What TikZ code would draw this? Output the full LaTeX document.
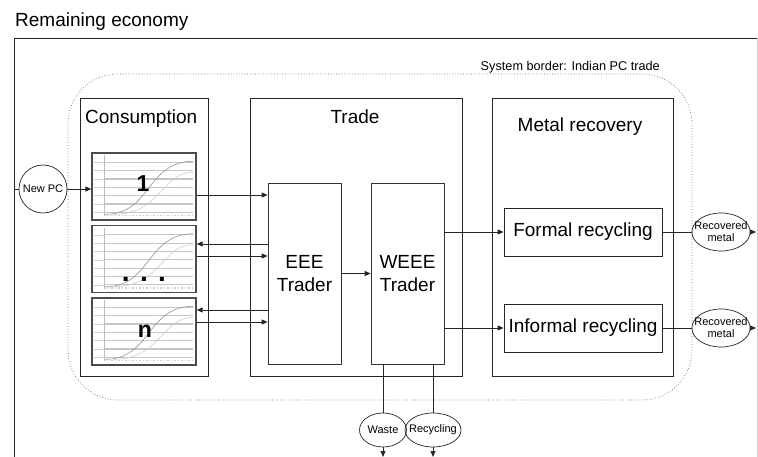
\documentclass[tikz,border=0pt]{standalone}
\usepackage{fontspec}
\setmainfont{Liberation Sans}
\usepackage{tikz}
\usetikzlibrary{positioning,arrows.meta,shapes.geometric,calc}
\tikzset{
  sect/.style={rectangle, draw=black!85, line width=0.8pt, inner sep=0pt},
  sectlbl/.style={font=\fontsize{19}{22}\selectfont, inner sep=0pt},
  trader/.style={rectangle, draw=black!80, line width=0.7pt, align=center,
    font=\fontsize{19}{23}\selectfont, minimum width=73pt, minimum height=181pt, inner sep=0pt},
  recbox/.style={rectangle, draw=black!85, line width=0.8pt,
    font=\fontsize{19}{22}\selectfont, minimum width=158pt, minimum height=48pt, inner sep=0pt},
  chartbox/.style={rectangle, draw=black!70, line width=1.4pt,
    minimum width=104pt, minimum height=67pt, inner sep=0pt},
  chartlbl/.style={font=\fontsize{23}{24}\selectfont\bfseries, inner sep=0pt},
  stock/.style={ellipse, draw=black!85, line width=0.7pt, align=center,
    font=\fontsize{11}{12}\selectfont, inner xsep=-6pt, inner ysep=1pt},
  sysborder/.style={rectangle, rounded corners=50pt, draw=black!60, dotted, line width=0.7pt,
    minimum width=624pt, minimum height=326pt, inner sep=0pt},
  frame/.style={draw=black!85, line width=0.9pt},
  flow/.style={-{Triangle[length=6pt, width=5pt]}, draw=black!85, line width=0.8pt},
  link/.style={draw=black!85, line width=0.8pt},
}
% grid and curves inside one consumption chart
\newcommand{\chartgrid}[1]{%
  \begin{scope}[shift={(#1.north west)}]
    \foreach \gy in {10,18.3,26.7,35,43.3,51.7,60}{
      \draw[gray!35, line width=0.4pt] (3,\gy) -- (13,\gy);
      \draw[gray!45, line width=1.1pt] (13,\gy) -- (102,\gy);
    }
    \draw[gray!50, line width=0.6pt] (13,3) -- (13,63);
    \draw[gray!40, dotted, line width=1.5pt] (13,63) -- (102,63);
    \draw[gray!85, line width=0.6pt] (14,62) .. controls (60,62) and (55,9) .. (102,9);
    \draw[gray!40, line width=0.6pt] (22,62) .. controls (70,62) and (70,20) .. (102,20);
  \end{scope}}

\begin{document}
\begin{tikzpicture}[x=1pt, y=-1pt]
\useasboundingbox (0,0) rectangle (758,457);
% ---- remaining economy ----
\node[sectlbl, anchor=base west] (econlbl) at (15,27) {Remaining economy};
\draw[frame] (758,38) -- (14,38) -- (14,457);
\draw[gray!35, line width=0.6pt] (757,38) -- (757,457);
% ---- system border ----
\node[sysborder] (sys) at (380,237) {};
\node[anchor=base east, font=\fontsize{12.7}{14}\selectfont, inner sep=0pt] (syslbl) at (660,71) {System border: Indian PC trade};
% ---- consumption ----
\node[sect, minimum width=128pt, minimum height=278pt] (cons) at (144,237) {};
\node[sectlbl, anchor=base west] (conslbl) at (85,124) {Consumption};
\node[chartbox] (c1) at (144,186.5) {};
\node[chartbox] (c2) at (144,259) {};
\node[chartbox] (cn) at (144,331.5) {};
\chartgrid{c1} \chartgrid{c2} \chartgrid{cn}
\node[chartlbl] (c1lbl) at (143,184) {1};
\node[font=\fontsize{28}{28}\selectfont\bfseries, inner sep=0pt, anchor=base] (c2lbl) at (144,281) {. . .};
\node[chartlbl] (cnlbl) at (145,331) {n};
% ---- trade ----
\node[sect, minimum width=212pt, minimum height=278pt] (trade) at (356,237) {};
\node[sectlbl, anchor=base] (tradelbl) at (355,124) {Trade};
\node[trader] (eee) at (304.5,273.5) {EEE\\Trader};
\node[trader] (weee) at (407.5,273.5) {WEEE\\Trader};
% ---- metal recovery ----
\node[sect, minimum width=181pt, minimum height=278pt] (metal) at (582.5,237) {};
\node[sectlbl, anchor=base] (metallbl) at (580,132) {Metal recovery};
\node[recbox] (formal) at (583,232) {Formal recycling};
\node[recbox] (informal) at (583,328) {Informal recycling};
% ---- stocks ----
\node[stock, circle, minimum size=48pt, inner sep=1pt] (newpc) at (43,189) {New PC};
\node[stock, minimum width=56pt, minimum height=38pt] (rec1) at (721,232) {Recovered\\metal};
\node[stock, minimum width=56pt, minimum height=38pt] (rec2) at (721,328) {Recovered\\metal};
\node[stock, minimum width=47pt, minimum height=34pt] (waste) at (383,430) {Waste};
\node[stock, minimum width=56pt, minimum height=34pt] (recyc) at (433,430) {Recycling};
\coordinate (econin) at (14,189);
\coordinate (out1) at (756,232);
\coordinate (out2) at (756,328);
\coordinate (wasteout) at (383,457);
\coordinate (recycout) at (433,457);
% ---- flows ----
\draw[link] (econin) -- (newpc);
\draw[flow] (newpc) -- (newpc -| c1.west);
\draw[flow] ($(c1.east)+(0,8.5)$) -- ($(c1.east -| eee.west)+(0,8.5)$);
\draw[flow] ($(c2.east -| eee.west)+(0,-15)$) -- ($(c2.east)+(0,-15)$);
\draw[flow] ($(c2.east)+(0,-3)$) -- ($(c2.east -| eee.west)+(0,-3)$);
\draw[flow] ($(cn.east -| eee.west)+(0,-21.5)$) -- ($(cn.east)+(0,-21.5)$);
\draw[flow] ($(cn.east)+(0,-9.5)$) -- ($(cn.east -| eee.west)+(0,-9.5)$);
\draw[flow] (eee) -- (weee);
\draw[flow] (weee.east |- formal.west) -- (formal.west);
\draw[flow] (weee.east |- informal.west) -- (informal.west);
\draw[link] (formal) -- (rec1);
\draw[link] (informal) -- (rec2);
\draw[flow] (rec1) -- (out1);
\draw[flow] (rec2) -- (out2);
\draw[link] (weee.south -| waste.north) -- (waste.north);
\draw[link] (weee.south -| recyc.north) -- (recyc.north);
\draw[flow] (waste) -- (wasteout);
\draw[flow] (recyc) -- (recycout);
\end{tikzpicture}
\end{document}
